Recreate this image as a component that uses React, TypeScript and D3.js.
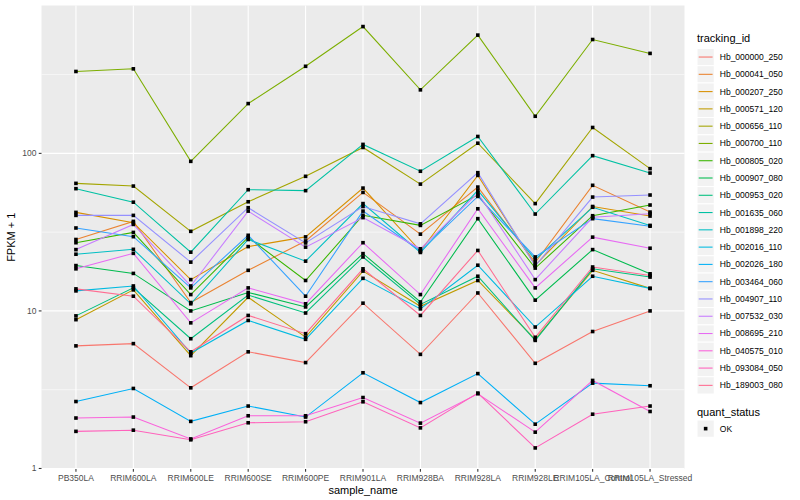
import React, { useEffect, useRef } from 'react';
import * as d3 from 'd3';

const samples = [
  'PB350LA', 'RRIM600LA', 'RRIM600LE', 'RRIM600SE', 'RRIM600PE', 'RRIM901LA',
  'RRIM928BA', 'RRIM928LA', 'RRIM928LE', 'RRIM105LA_Control', 'RRIM105LA_Stressed',
];

// FPKM + 1, one value per sample
const Hb_000000_250 = [6.0, 6.2, 3.25, 5.5, 4.7, 11.2, 5.3, 13.0, 4.65, 7.4, 10.0];
const Hb_000041_050 = [28.4, 37, 11.3, 18.1, 27.8, 56.5, 30.7, 61.1, 20.3, 62.7, 42.4];
const Hb_000207_250 = [42.2, 36.3, 15.8, 25.6, 29.5, 60.2, 24.0, 72.5, 19.5, 46, 40];
const Hb_000571_120 = [8.8, 13.6, 5.2, 12.2, 6.82, 17.9, 10.7, 15.6, 6.6, 18.1, 13.9];
const Hb_000656_110 = [64.5, 62, 32, 49.3, 71.5, 109, 63.8, 116, 48, 146, 80];
const Hb_000700_110 = [331, 344, 89, 207, 357, 638, 253, 563, 172, 528, 431];
const Hb_000805_020 = [27.1, 31.5, 12.7, 29.3, 15.6, 40.5, 34.9, 54.5, 18.7, 40.2, 47];
const Hb_000907_080 = [19.4, 17.3, 10.0, 13.1, 10.6, 23.1, 11.4, 38.5, 11.7, 24.5, 17.2];
const Hb_000953_020 = [9.3, 14.0, 6.66, 12.6, 9.7, 22.0, 11.0, 16.6, 6.5, 18.5, 16.4];
const Hb_001635_060 = [59.7, 49, 23.6, 58.8, 58, 114, 77, 128, 41.2, 96.7, 75];
const Hb_001898_220 = [22.9, 24.6, 11.1, 28.4, 20.7, 48, 23.5, 58.2, 21.2, 45.5, 34.9];
const Hb_002016_110 = [13.4, 14.4, 5.4, 8.7, 6.6, 16.1, 10.3, 19.5, 7.9, 16.6, 13.9];
const Hb_002026_180 = [2.66, 3.22, 1.99, 2.49, 2.12, 4.05, 2.62, 4.0, 1.91, 3.48, 3.35];
const Hb_003464_060 = [33.6, 29.6, 14.0, 30.2, 12.4, 43, 24.0, 53.3, 22.0, 38.5, 34.5];
const Hb_004907_110 = [40.4, 40.4, 20.4, 45.2, 27, 46, 35.7, 75.4, 19.3, 52.8, 54.4];
const Hb_007532_030 = [24.5, 35.4, 14.4, 43, 25.4, 39.1, 24.8, 56, 15.8, 39.3, 41.4];
const Hb_008695_210 = [18.5, 23.2, 8.4, 14.0, 11.1, 27.1, 12.7, 44.5, 14.0, 29.4, 25];
const Hb_040575_010 = [2.09, 2.12, 1.54, 2.16, 2.16, 2.82, 1.94, 2.98, 1.70, 3.62, 2.30];
const Hb_093084_050 = [1.72, 1.75, 1.52, 1.95, 1.98, 2.65, 1.81, 3.01, 1.35, 2.21, 2.49];
const Hb_189003_080 = [13.8, 12.4, 5.5, 9.36, 7.17, 18.5, 9.36, 24.2, 6.8, 19.0, 16.8];

const trackingIds = [
  'Hb_000000_250', 'Hb_000041_050', 'Hb_000207_250', 'Hb_000571_120', 'Hb_000656_110',
  'Hb_000700_110', 'Hb_000805_020', 'Hb_000907_080', 'Hb_000953_020', 'Hb_001635_060',
  'Hb_001898_220', 'Hb_002016_110', 'Hb_002026_180', 'Hb_003464_060', 'Hb_004907_110',
  'Hb_007532_030', 'Hb_008695_210', 'Hb_040575_010', 'Hb_093084_050', 'Hb_189003_080',
];
const seriesValues = [
  Hb_000000_250, Hb_000041_050, Hb_000207_250, Hb_000571_120, Hb_000656_110,
  Hb_000700_110, Hb_000805_020, Hb_000907_080, Hb_000953_020, Hb_001635_060,
  Hb_001898_220, Hb_002016_110, Hb_002026_180, Hb_003464_060, Hb_004907_110,
  Hb_007532_030, Hb_008695_210, Hb_040575_010, Hb_093084_050, Hb_189003_080,
];

const quantStatus = ['OK'];
const yTicks = [1, 10, 100];

// ggplot2 default hue palette for 20 levels
const palette = [
  '#F8766D', '#EA8331', '#D89000', '#C09B00', '#A3A500', '#7CAE00', '#39B600',
  '#00BB4E', '#00BF7D', '#00C1A3', '#00BFC4', '#00BAE0', '#00B0F6', '#35A2FF',
  '#9590FF', '#C77CFF', '#E76BF3', '#FA62DB', '#FF62BC', '#FF6C91',
];

const FONT = '"Liberation Sans", Arial, Helvetica, sans-serif';

export default function App() {
  const svgRef = useRef<SVGSVGElement>(null);

  useEffect(() => {
    if (!svgRef.current) return;
    const svg = d3.select(svgRef.current);
    svg.selectAll('*').remove();

    const panel = { left: 41.5, right: 684.5, top: 5.5, bottom: 469 };

    const x = d3.scalePoint<string>()
      .domain(samples)
      .range([panel.left, panel.right])
      .padding(0.6);

    // log scale with ggplot's 5% expansion in log space
    const all = seriesValues.flat();
    const lo = Math.log10(d3.min(all) || 1);
    const hi = Math.log10(d3.max(all) || 10);
    const pad = (hi - lo) * 0.05;
    const y = d3.scaleLog()
      .domain([Math.pow(10, lo - pad), Math.pow(10, hi + pad)])
      .range([panel.bottom, panel.top]);

    const g = svg.append('g');

    // panel background
    g.append('rect')
      .attr('x', panel.left)
      .attr('y', panel.top)
      .attr('width', panel.right - panel.left)
      .attr('height', panel.bottom - panel.top)
      .attr('fill', '#EBEBEB');

    // minor grid (midpoints in log space)
    const minor = [0.5, 1.5, 2.5].map(p => Math.pow(10, p));
    g.selectAll('.minor')
      .data(minor)
      .enter()
      .append('line')
      .attr('x1', panel.left)
      .attr('x2', panel.right)
      .attr('y1', d => y(d))
      .attr('y2', d => y(d))
      .attr('stroke', '#fff')
      .attr('stroke-width', 0.55);

    g.selectAll('.majorY')
      .data(yTicks)
      .enter()
      .append('line')
      .attr('x1', panel.left)
      .attr('x2', panel.right)
      .attr('y1', d => y(d))
      .attr('y2', d => y(d))
      .attr('stroke', '#fff')
      .attr('stroke-width', 1.1);

    g.selectAll('.majorX')
      .data(samples)
      .enter()
      .append('line')
      .attr('x1', d => x(d) || 0)
      .attr('x2', d => x(d) || 0)
      .attr('y1', panel.top)
      .attr('y2', panel.bottom)
      .attr('stroke', '#fff')
      .attr('stroke-width', 1.1);

    // lines
    const line = d3.line<number>()
      .x((_, i) => x(samples[i]) || 0)
      .y(d => y(d));

    seriesValues.forEach((vals, i) => {
      g.append('path')
        .datum(vals)
        .attr('fill', 'none')
        .attr('stroke', palette[i])
        .attr('stroke-width', 1.07)
        .attr('d', line);
    });

    // points
    seriesValues.forEach(vals => {
      g.selectAll(null)
        .data(vals)
        .enter()
        .append('rect')
        .attr('x', (_, i) => (x(samples[i]) || 0) - 1.8)
        .attr('y', d => y(d) - 1.8)
        .attr('width', 3.6)
        .attr('height', 3.6)
        .attr('fill', '#000');
    });

    // axes
    const axisCol = '#333333';
    const textCol = '#4D4D4D';

    yTicks.forEach(t => {
      g.append('line')
        .attr('x1', panel.left - 2.75)
        .attr('x2', panel.left)
        .attr('y1', y(t))
        .attr('y2', y(t))
        .attr('stroke', axisCol)
        .attr('stroke-width', 1.07);
      g.append('text')
        .attr('x', panel.left - 5)
        .attr('y', y(t))
        .attr('dy', '0.35em')
        .attr('text-anchor', 'end')
        .style('font-size', '8.5px')
        .style('fill', textCol)
        .text(String(t));
    });

    samples.forEach(s => {
      const xx = x(s) || 0;
      g.append('line')
        .attr('x1', xx)
        .attr('x2', xx)
        .attr('y1', panel.bottom)
        .attr('y2', panel.bottom + 2.75)
        .attr('stroke', axisCol)
        .attr('stroke-width', 1.07);
      g.append('text')
        .attr('x', xx)
        .attr('y', panel.bottom + 12)
        .attr('text-anchor', 'middle')
        .style('font-size', '8.5px')
        .style('fill', textCol)
        .text(s);
    });

    g.append('text')
      .attr('x', (panel.left + panel.right) / 2)
      .attr('y', 494)
      .attr('text-anchor', 'middle')
      .style('font-size', '11px')
      .style('fill', '#000')
      .text('sample_name');

    g.append('text')
      .attr('transform', `translate(15,${(panel.top + panel.bottom) / 2}) rotate(-90)`)
      .attr('text-anchor', 'middle')
      .style('font-size', '11px')
      .style('fill', '#000')
      .text('FPKM + 1');

    // legends
    const keyX = 697;
    const keySize = 17.28;
    const legend = svg.append('g');

    legend.append('text')
      .attr('x', keyX)
      .attr('y', 42)
      .style('font-size', '11px')
      .text('tracking_id');

    trackingIds.forEach((id, i) => {
      const top = 48.4 + i * keySize;
      legend.append('rect')
        .attr('x', keyX)
        .attr('y', top)
        .attr('width', keySize)
        .attr('height', keySize)
        .attr('fill', '#F2F2F2')
        .attr('stroke', '#fff')
        .attr('stroke-width', 1);
      legend.append('line')
        .attr('x1', keyX + 1.7)
        .attr('x2', keyX + keySize - 1.7)
        .attr('y1', top + keySize / 2)
        .attr('y2', top + keySize / 2)
        .attr('stroke', palette[i])
        .attr('stroke-width', 1.07);
      legend.append('text')
        .attr('x', keyX + keySize + 5.5)
        .attr('y', top + keySize / 2)
        .attr('dy', '0.35em')
        .style('font-size', '8.5px')
        .text(id);
    });

    legend.append('text')
      .attr('x', keyX)
      .attr('y', 416)
      .style('font-size', '11px')
      .text('quant_status');

    quantStatus.forEach((s, i) => {
      const top = 420 + i * keySize;
      legend.append('rect')
        .attr('x', keyX)
        .attr('y', top)
        .attr('width', keySize)
        .attr('height', keySize)
        .attr('fill', '#F2F2F2')
        .attr('stroke', '#fff')
        .attr('stroke-width', 1);
      legend.append('rect')
        .attr('x', keyX + keySize / 2 - 1.8)
        .attr('y', top + keySize / 2 - 1.8)
        .attr('width', 3.6)
        .attr('height', 3.6)
        .attr('fill', '#000');
      legend.append('text')
        .attr('x', keyX + keySize + 5.5)
        .attr('y', top + keySize / 2)
        .attr('dy', '0.35em')
        .style('font-size', '8.5px')
        .text(s);
    });
  }, []);

  return (
    <svg
      ref={svgRef}
      width={800}
      height={500}
      style={{ position: 'absolute', left: 0, top: 0, background: '#fff', fontFamily: FONT }}
    />
  );
}
